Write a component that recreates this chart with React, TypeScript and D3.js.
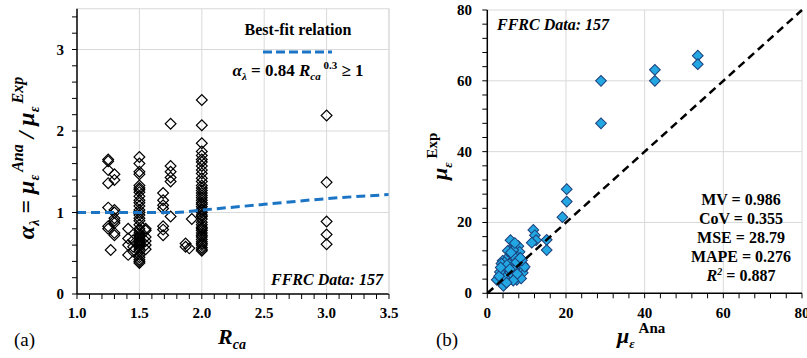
import * as d3 from 'd3';

// ---------- panel (a): alpha vs R_ca ----------
const leftXTicks = [1.0, 1.5, 2.0, 2.5, 3.0, 3.5];
const leftYTicks = [0, 1, 2, 3];

const rcaGroups = [1.25, 1.27, 1.3, 1.41, 1.45, 1.5, 1.55, 1.69, 1.75, 1.87, 1.9, 1.92, 2.0, 3.0];
const alphaGroups = [
  [1.65, 1.63, 1.52, 1.36, 1.06, 0.83, 0.8],
  [0.54],
  [1.47, 1.4, 1.03, 1.0, 0.93, 0.9, 0.87, 0.75, 0.72],
  [0.8, 0.68, 0.6, 0.48],
  [0.66, 0.58, 0.52],
  [1.68, 1.6, 1.5, 1.47, 1.33, 1.3, 1.28, 1.25, 1.2, 1.15, 1.12, 1.08, 1.03, 1.0, 0.97, 0.93, 0.9, 0.85, 0.8, 0.78,
    0.75, 0.72, 0.7, 0.68, 0.66, 0.65, 0.63, 0.62, 0.6, 0.58, 0.55, 0.52, 0.48, 0.45, 0.42, 0.4, 0.38],
  [0.8, 0.78, 0.7, 0.65, 0.6, 0.55],
  [1.24, 1.15, 1.09, 1.05, 0.83, 0.79, 0.72],
  [2.09, 1.57, 1.5, 1.43, 1.38, 0.95],
  [0.62, 0.58],
  [0.56],
  [0.92],
  [2.38, 2.07, 1.85, 1.75, 1.7, 1.65, 1.62, 1.57, 1.52, 1.48, 1.42, 1.38, 1.33, 1.3, 1.27, 1.24, 1.21, 1.18, 1.15,
    1.12, 1.1, 1.07, 1.04, 1.02, 1.0, 0.97, 0.95, 0.92, 0.88, 0.85, 0.82, 0.8, 0.78, 0.75, 0.72, 0.7, 0.67, 0.64,
    0.62, 0.6, 0.57, 0.55, 0.53],
  [2.19, 1.37, 0.89, 0.73, 0.61],
];

// best-fit curve
const fitR = [1.0, 1.5, 1.79, 2.0, 2.5, 3.0, 3.5];
const fitAlpha = [1.0, 1.0, 1.0, 1.03, 1.1, 1.17, 1.22];

// ---------- panel (b): mu_exp vs mu_ana ----------
const rightTicks = [0, 20, 40, 60, 80];
const muAna = [
  2.4, 4.1, 3.5, 3.8, 4.2, 4.5, 3.9, 5.0, 5.5, 5.2, 4.8, 5.5, 5.4, 6.0, 6.3, 6.5, 6.8, 7.2, 6.0, 7.5, 7.0, 5.9, 7.9,
  8.2, 6.6, 7.0, 7.6, 8.0, 8.3, 8.5, 8.8, 8.2, 8.0, 7.5, 7.0, 6.5, 5.8, 4.6, 4.0, 3.6, 9.0, 9.2, 9.0, 8.6, 7.8, 7.2,
  6.8, 6.2, 5.6, 5.0, 4.4, 3.2, 3.0, 5.2, 6.4, 9.5, 8.8, 7.6, 6.6, 4.9, 3.4, 6.0, 7.4, 8.4, 5.7,
  11.7, 12.1, 12.4, 11.3, 15.1, 15.1, 19.1, 20.2, 20.2, 28.9, 28.9, 42.6, 42.6, 53.5, 53.5,
];
const muExp = [
  3.8, 2.1, 5.2, 6.5, 7.8, 8.8, 9.2, 9.5, 10.5, 7.0, 5.5, 4.5, 3.6, 6.2, 7.5, 8.5, 9.8, 11.0, 12.5, 12.0, 13.8, 15.0,
  13.3, 11.7, 12.2, 14.2, 10.3, 9.0, 8.0, 7.2, 6.5, 5.5, 4.5, 3.8, 4.2, 5.0, 5.8, 6.2, 7.0, 8.4, 8.2, 7.0, 5.8, 4.2,
  6.8, 7.6, 6.7, 9.0, 8.2, 8.0, 4.4, 6.0, 4.8, 12.0, 10.8, 7.5, 9.3, 5.5, 3.6, 3.0, 7.3, 11.5, 8.8, 10.0, 6.8,
  17.9, 16.4, 15.0, 14.3, 15.1, 12.2, 21.5, 29.4, 25.9, 60.0, 48.0, 63.1, 60.0, 67.1, 64.7,
];
const statLines = ['MV = 0.986', 'CoV = 0.355', 'MSE = 28.79', 'MAPE = 0.276'];

const FONT = '"Liberation Serif", "Times New Roman", serif';
const GRID = '#d9d9d9';

export default function App() {
  // panel (a) scales
  const xa = d3.scaleLinear().domain([1, 3.5]).range([77, 389]);
  const ya = d3.scaleLinear().domain([0, 3.5]).range([294, 8.75]);
  // panel (b) scales
  const xb = d3.scaleLinear().domain([0, 80]).range([487.3, 802]);
  const yb = d3.scaleLinear().domain([0, 80]).range([293.3, 10]);

  const leftPoints = rcaGroups.flatMap((r, i) => alphaGroups[i].map(a => ({ r, a })));
  const rightPoints = muAna.map((x, i) => ({ x, y: muExp[i] }));

  const fitLine = d3.line<number>()
    .x((_, i) => xa(fitR[i]))
    .y(d => ya(d))
    .curve(d3.curveMonotoneX);

  const diamond = d3.symbol(d3.symbolSquare, 58)() as string;

  const xaMinor = d3.range(10, 36).map(v => v / 10);
  const yaMinor = d3.range(0, 18).map(v => v / 5);
  const bMinor = d3.range(0, 21).map(v => v * 4);

  return (
    <div style={{ position: 'absolute', left: 0, top: 0 }}>
      <svg width={807} height={358} style={{ display: 'block' }} fontFamily={FONT}>
        <rect width={807} height={358} fill="#fff" />

        {/* ===== panel (a) ===== */}
        <g>
          {leftXTicks.slice(1).map(t => (
            <line key={'gx' + t} x1={xa(t)} x2={xa(t)} y1={ya(0)} y2={ya(3.5)} stroke={GRID} />
          ))}
          {leftYTicks.slice(1).map(t => (
            <line key={'gy' + t} x1={xa(1)} x2={xa(3.5)} y1={ya(t)} y2={ya(t)} stroke={GRID} />
          ))}
          <line x1={xa(1)} x2={xa(3.5)} y1={ya(3.5)} y2={ya(3.5)} stroke={GRID} />

          {leftPoints.map((p, i) => (
            <path key={i} d={diamond} transform={`translate(${xa(p.r)},${ya(p.a)}) rotate(45)`}
              fill="none" stroke="#000" strokeWidth={1.2} />
          ))}

          <path d={fitLine(fitAlpha) as string} fill="none" stroke="#1b75c4" strokeWidth={3} strokeDasharray="9,5" />

          {/* axes */}
          <line x1={xa(1)} x2={xa(3.5)} y1={ya(0)} y2={ya(0)} stroke="#000" strokeWidth={1.5} />
          <line x1={xa(1)} x2={xa(1)} y1={ya(0)} y2={ya(3.5)} stroke="#000" strokeWidth={1.5} />
          <line x1={xa(3.5)} x2={xa(3.5)} y1={ya(0)} y2={ya(3.5)} stroke={GRID} />
          {xaMinor.map(t => (
            <line key={'xt' + t} x1={xa(t)} x2={xa(t)} y1={ya(0)} y2={ya(0) + 5} stroke="#000" />
          ))}
          {yaMinor.map(t => (
            <line key={'yt' + t} x1={xa(1) - 5} x2={xa(1)} y1={ya(t)} y2={ya(t)} stroke="#000" />
          ))}
          {leftXTicks.map(t => (
            <text key={'xl' + t} x={xa(t)} y={318} textAnchor="middle" fontSize={15} fontWeight="bold">
              {d3.format('.1f')(t)}
            </text>
          ))}
          {leftYTicks.map(t => (
            <text key={'yl' + t} x={64} y={ya(t) + 5} textAnchor="end" fontSize={15} fontWeight="bold">{t}</text>
          ))}

          {/* legend / annotation */}
          <text x={298} y={35} textAnchor="middle" fontSize={16} fontWeight="bold">Best-fit relation</text>
          <line x1={263} x2={332} y1={52} y2={52} stroke="#1b75c4" strokeWidth={3} strokeDasharray="9,4" />
          <text x={298} y={76} textAnchor="middle" fontSize={17} fontWeight="bold">
            <tspan fontStyle="italic">α</tspan>
            <tspan fontSize={11} dy={4} fontStyle="italic">λ</tspan>
            <tspan dy={-4}> = 0.84 </tspan>
            <tspan fontStyle="italic">R</tspan>
            <tspan fontSize={11} dy={4} fontStyle="italic">ca</tspan>
            <tspan fontSize={11} dy={-11}> 0.3</tspan>
            <tspan dy={7}> ≥ 1</tspan>
          </text>
          <text x={383} y={285} textAnchor="end" fontSize={16} fontWeight="bold" fontStyle="italic">FFRC Data: 157</text>

          {/* titles */}
          <text x={232} y={344} textAnchor="middle" fontWeight="bold" fontStyle="italic">
            <tspan fontSize={22}>R</tspan>
            <tspan fontSize={14} dy={5}>ca</tspan>
          </text>
          <text transform="translate(34,158) rotate(-90)" textAnchor="middle" fontSize={24} fontWeight="bold" fontStyle="italic">
            <tspan>α</tspan>
            <tspan fontSize={14} dy={5}>λ</tspan>
            <tspan dy={-5}> = μ</tspan>
            <tspan fontSize={14} dy={5}>ε</tspan>
            <tspan fontSize={16} dy={-16} dx={3}>Ana</tspan>
            <tspan dy={11}> / μ</tspan>
            <tspan fontSize={14} dy={5}>ε</tspan>
            <tspan fontSize={16} dy={-16} dx={3}>Exp</tspan>
          </text>
          <text x={14} y={346} fontSize={19}>(a)</text>
        </g>

        {/* ===== panel (b) ===== */}
        <g>
          {rightTicks.slice(1, 4).map(t => (
            <line key={'bgx' + t} x1={xb(t)} x2={xb(t)} y1={yb(0)} y2={yb(80)} stroke={GRID} />
          ))}
          {rightTicks.slice(1, 4).map(t => (
            <line key={'bgy' + t} x1={xb(0)} x2={xb(80)} y1={yb(t)} y2={yb(t)} stroke={GRID} />
          ))}
          <line x1={xb(0)} x2={xb(80)} y1={yb(80)} y2={yb(80)} stroke={GRID} />
          <line x1={xb(80)} x2={xb(80)} y1={yb(0)} y2={yb(80)} stroke={GRID} />

          {rightPoints.map((p, i) => (
            <path key={i} d={diamond} transform={`translate(${xb(p.x)},${yb(p.y)}) rotate(45)`}
              fill="#22a7e3" stroke="#1d3f7a" strokeWidth={1} />
          ))}

          <line x1={xb(0)} y1={yb(0)} x2={xb(80)} y2={yb(80)} stroke="#000" strokeWidth={2.5} strokeDasharray="8,5" />

          <line x1={xb(0)} x2={xb(80)} y1={yb(0)} y2={yb(0)} stroke="#000" strokeWidth={1.5} />
          <line x1={xb(0)} x2={xb(0)} y1={yb(0)} y2={yb(80)} stroke="#000" strokeWidth={1.5} />
          {bMinor.map(t => (
            <line key={'bxt' + t} x1={xb(t)} x2={xb(t)} y1={yb(0)} y2={yb(0) + 5} stroke="#000" />
          ))}
          {bMinor.map(t => (
            <line key={'byt' + t} x1={xb(0) - 5} x2={xb(0)} y1={yb(t)} y2={yb(t)} stroke="#000" />
          ))}
          {rightTicks.map(t => (
            <text key={'bxl' + t} x={xb(t)} y={318} textAnchor="middle" fontSize={15} fontWeight="bold">{t}</text>
          ))}
          {rightTicks.map(t => (
            <text key={'byl' + t} x={472} y={yb(t) + 5} textAnchor="end" fontSize={15} fontWeight="bold">{t}</text>
          ))}

          <text x={497} y={30} fontSize={16} fontWeight="bold" fontStyle="italic">FFRC Data: 157</text>

          {statLines.map((s, i) => (
            <text key={s} x={741} y={205 + i * 19} textAnchor="middle" fontSize={16} fontWeight="bold">{s}</text>
          ))}
          <text x={741} y={281} textAnchor="middle" fontSize={16} fontWeight="bold">
            <tspan fontStyle="italic">R</tspan>
            <tspan fontSize={10} dy={-6} fontStyle="italic">2</tspan>
            <tspan dy={6}> = 0.887</tspan>
          </text>

          {/* titles */}
          <text x={617} y={343} fontWeight="bold">
            <tspan fontSize={22} fontStyle="italic">μ</tspan>
            <tspan fontSize={13} dy={5} fontStyle="italic">ε</tspan>
            <tspan fontSize={15} dy={-15} dx={4}>Ana</tspan>
          </text>
          <text transform="translate(447,180) rotate(-90)" fontWeight="bold">
            <tspan fontSize={22} fontStyle="italic">μ</tspan>
            <tspan fontSize={13} dy={5} fontStyle="italic">ε</tspan>
            <tspan fontSize={15} dy={-15} dx={4}>Exp</tspan>
          </text>
          <text x={436} y={346} fontSize={19}>(b)</text>
        </g>
      </svg>
    </div>
  );
}
